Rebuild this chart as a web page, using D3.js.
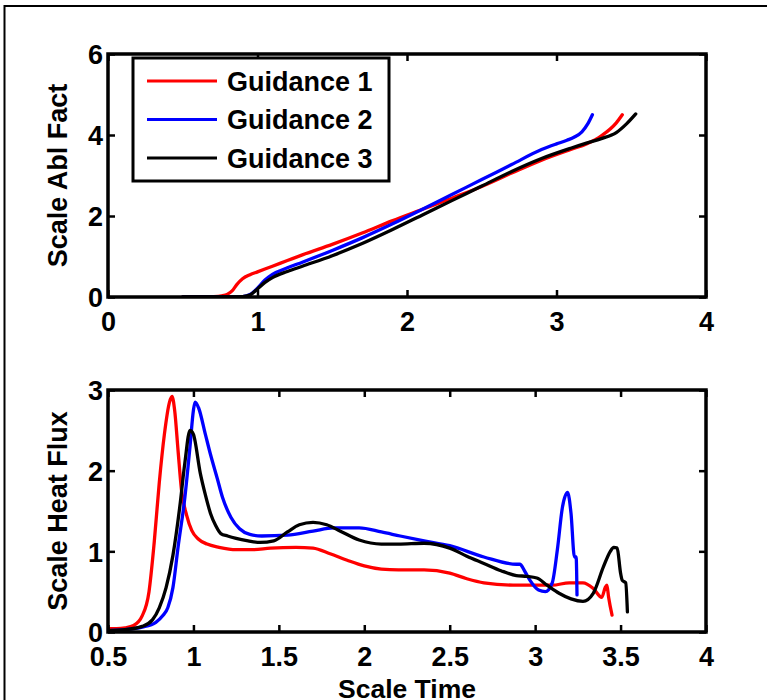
<!DOCTYPE html>
<html>
<head>
<meta charset="utf-8">
<script src="https://cdn.jsdelivr.net/npm/d3@7/dist/d3.min.js"></script>
<style>
  html, body { margin: 0; padding: 0; background: #fff; }
  svg { display: block; }
  text { font-family: "Liberation Sans", Arial, sans-serif; font-weight: bold; fill: #000; }
</style>
</head>
<body>
<svg id="chart" width="767" height="700"></svg>
<script>
// ---------------- data ----------------
const seriesNames = ["Guidance 1", "Guidance 2", "Guidance 3"];
const seriesColors = ["#ff0000", "#0000ff", "#000000"];

// Top panel: Scale Abl Fact vs Scale Time  ([time, value])
const ablG1 = [[0.5,0],[0.6,0],[0.7,0.01],[0.76,0.03],[0.8,0.07],[0.83,0.15],[0.86,0.3],[0.9,0.45],[0.95,0.55],[1.0,0.62],
  [1.1,0.76],[1.2,0.9],[1.3,1.04],[1.5,1.3],[1.7,1.58],[1.9,1.88],[2.1,2.16],[2.3,2.44],[2.5,2.73],[2.7,3.06],
  [2.9,3.38],[3.1,3.65],[3.2,3.78],[3.3,3.98],[3.4,4.3],[3.44,4.5]];
const ablG2 = [[0.5,0],[0.8,0],[0.9,0.01],[0.95,0.06],[1.0,0.22],[1.05,0.42],[1.1,0.56],[1.2,0.72],[1.3,0.86],[1.5,1.15],
  [1.7,1.46],[1.9,1.8],[2.1,2.16],[2.3,2.53],[2.5,2.9],[2.7,3.27],[2.9,3.64],[3.0,3.78],[3.07,3.87],[3.12,3.95],
  [3.17,4.08],[3.21,4.28],[3.24,4.5]];
const ablG3 = [[0.5,0],[0.85,0],[0.9,0.01],[0.95,0.05],[1.0,0.2],[1.05,0.36],[1.1,0.48],[1.2,0.63],[1.3,0.76],[1.5,1.02],
  [1.7,1.32],[1.9,1.66],[2.1,2.02],[2.3,2.38],[2.5,2.74],[2.7,3.1],[2.9,3.42],[3.1,3.68],[3.2,3.8],[3.3,3.91],
  [3.4,4.06],[3.47,4.28],[3.53,4.52]];

// Bottom panel: Scale Heat Flux vs Scale Time
const fluxG1 = [[0.5,0.04],[0.55,0.04],[0.6,0.05],[0.65,0.08],[0.7,0.2],[0.74,0.5],[0.77,1.1],[0.8,1.85],[0.83,2.45],
  [0.86,2.85],[0.875,2.92],[0.89,2.75],[0.91,2.25],[0.93,1.76],[0.96,1.45],[0.99,1.26],[1.03,1.15],[1.08,1.09],
  [1.15,1.05],[1.25,1.02],[1.35,1.02],[1.45,1.04],[1.6,1.05],[1.7,1.04],[1.8,0.97],[1.9,0.89],[2.0,0.82],[2.1,0.78],
  [2.2,0.77],[2.35,0.77],[2.5,0.73],[2.6,0.66],[2.7,0.61],[2.9,0.58],[3.1,0.58],[3.2,0.61],[3.28,0.61],[3.34,0.54],
  [3.39,0.43],[3.41,0.55],[3.42,0.58],[3.43,0.43],[3.45,0.21]];
const fluxG2 = [[0.52,0.02],[0.6,0.03],[0.7,0.06],[0.78,0.12],[0.82,0.2],[0.85,0.3],[0.88,0.55],[0.91,1.05],[0.95,1.67],
  [0.98,2.3],[1.0,2.75],[1.01,2.85],[1.03,2.78],[1.07,2.45],[1.1,2.2],[1.14,1.9],[1.17,1.67],[1.22,1.42],[1.27,1.28],
  [1.33,1.21],[1.4,1.19],[1.55,1.2],[1.7,1.25],[1.82,1.29],[1.97,1.29],[2.1,1.24],[2.21,1.19],[2.35,1.13],[2.5,1.07],
  [2.7,0.93],[2.89,0.84],[2.91,0.84],[2.94,0.75],[2.97,0.64],[3.02,0.52],[3.06,0.5],[3.1,0.61],[3.13,1.02],[3.16,1.55],
  [3.19,1.73],[3.21,1.47],[3.23,0.93],[3.24,0.93],[3.245,0.46]];
const fluxG3 = [[0.5,0.02],[0.6,0.03],[0.7,0.07],[0.76,0.15],[0.8,0.3],[0.84,0.55],[0.88,0.95],[0.92,1.55],[0.95,2.1],
  [0.98,2.5],[1.0,2.45],[1.04,1.97],[1.07,1.7],[1.1,1.47],[1.13,1.32],[1.16,1.22],[1.2,1.19],[1.25,1.16],[1.32,1.13],
  [1.39,1.11],[1.47,1.13],[1.55,1.24],[1.62,1.33],[1.7,1.36],[1.78,1.33],[1.86,1.25],[1.97,1.14],[2.1,1.09],[2.2,1.09],
  [2.35,1.1],[2.5,1.04],[2.6,0.94],[2.7,0.85],[2.8,0.76],[2.89,0.7],[2.95,0.69],[3.01,0.67],[3.07,0.58],[3.14,0.48],
  [3.21,0.41],[3.28,0.38],[3.34,0.48],[3.4,0.81],[3.44,1.0],[3.46,1.05],[3.48,1.04],[3.5,0.73],[3.51,0.64],[3.53,0.61],
  [3.54,0.25]];

// Axes ticks and labels
const topXTicks = [0, 1, 2, 3, 4];
const topYTicks = [0, 2, 4, 6];
const botXTicks = [0.5, 1, 1.5, 2, 2.5, 3, 3.5, 4];
const botYTicks = [0, 1, 2, 3];
const topYLabel = "Scale Abl Fact";
const botYLabel = "Scale Heat Flux";
const xLabel = "Scale Time";

// ---------------- drawing ----------------
const svg = d3.select("#chart");
const FS = 27;

// outer figure frame (top and left edges visible)
svg.append("path").attr("d", "M4.5,700 L4.5,6 L767,6")
  .attr("fill", "none").attr("stroke", "#000").attr("stroke-width", 2);

function panel(opts) {
  const {x0, x1, y0, y1, xDomain, yDomain, xTicks, yTicks, series, ylabel, xlabel} = opts;
  const x = d3.scaleLinear().domain(xDomain).range([x0, x1]);
  const y = d3.scaleLinear().domain(yDomain).range([y1, y0]);
  const g = svg.append("g");
  const clipId = "clip" + Math.round(y0);
  svg.append("clipPath").attr("id", clipId).append("rect")
    .attr("x", x0).attr("y", y0 - 2).attr("width", x1 - x0).attr("height", y1 - y0 + 2);

  const line = d3.line().x(d => x(d[0])).y(d => y(d[1])).curve(d3.curveMonotoneX);
  const lg = g.append("g").attr("clip-path", `url(#${clipId})`);
  series.forEach((s, i) => {
    lg.append("path").datum(s).attr("d", line)
      .attr("fill", "none").attr("stroke", seriesColors[i]).attr("stroke-width", 3.3)
      .attr("stroke-linejoin", "round").attr("stroke-linecap", "round");
  });

  const tickLen = 7;
  const fmt = d3.format("~g");
  const axB = d3.axisBottom(x).tickValues(xTicks).tickSizeInner(-tickLen).tickSizeOuter(0).tickPadding(15).tickFormat(fmt);
  const gb = g.append("g").attr("transform", `translate(0,${y1})`).call(axB);
  const axT = d3.axisTop(x).tickValues(xTicks).tickSizeInner(-tickLen).tickSizeOuter(0).tickFormat("");
  const gt = g.append("g").attr("transform", `translate(0,${y0})`).call(axT);
  const axL = d3.axisLeft(y).tickValues(yTicks).tickSizeInner(-tickLen).tickSizeOuter(0).tickPadding(5).tickFormat(fmt);
  const gl = g.append("g").attr("transform", `translate(${x0},0)`).call(axL);
  const axR = d3.axisRight(y).tickValues(yTicks).tickSizeInner(-tickLen).tickSizeOuter(0).tickFormat("");
  const gr = g.append("g").attr("transform", `translate(${x1},0)`).call(axR);
  [gb, gt, gl, gr].forEach(a => {
    a.select(".domain").remove();
    a.selectAll("line").attr("stroke", "#000").attr("stroke-width", 2.5);
    a.selectAll("text").attr("font-size", FS).attr("font-family", "Liberation Sans, Arial, sans-serif")
      .attr("font-weight", "bold").attr("fill", "#000");
  });
  gl.selectAll("text").attr("dy", "0.36em");
  gb.selectAll("text").attr("dy", "0.71em");

  g.append("rect").attr("x", x0).attr("y", y0).attr("width", x1 - x0).attr("height", y1 - y0)
    .attr("fill", "none").attr("stroke", "#000").attr("stroke-width", 3.5);

  g.append("text").attr("transform", `translate(${x0 - 41},${(y0 + y1) / 2}) rotate(-90)`)
    .attr("text-anchor", "middle").attr("font-size", FS).text(ylabel);
  if (xlabel) {
    g.append("text").attr("x", (x0 + x1) / 2).attr("y", 698)
      .attr("text-anchor", "middle").attr("font-size", 26.5).text(xlabel);
  }
  return {x, y, g};
}

panel({x0: 108, x1: 706, y0: 54, y1: 297, xDomain: [0, 4], yDomain: [0, 6],
  xTicks: topXTicks, yTicks: topYTicks, series: [ablG1, ablG2, ablG3], ylabel: topYLabel});
panel({x0: 108, x1: 706, y0: 390, y1: 632, xDomain: [0.5, 4], yDomain: [0, 3],
  xTicks: botXTicks, yTicks: botYTicks, series: [fluxG1, fluxG2, fluxG3], ylabel: botYLabel, xlabel: xLabel});

// legend
const leg = svg.append("g");
leg.append("rect").attr("x", 133).attr("y", 58).attr("width", 256).attr("height", 123)
  .attr("fill", "#fff").attr("stroke", "#000").attr("stroke-width", 3);
const legY = d3.scalePoint().domain(seriesNames).range([81, 158]);
seriesNames.forEach((n, i) => {
  leg.append("line").attr("x1", 147).attr("x2", 217).attr("y1", legY(n)).attr("y2", legY(n))
    .attr("stroke", seriesColors[i]).attr("stroke-width", 3);
  leg.append("text").attr("x", 227).attr("y", legY(n)).attr("dy", "0.36em")
    .attr("font-size", FS).text(n);
});
</script>
</body>
</html>
